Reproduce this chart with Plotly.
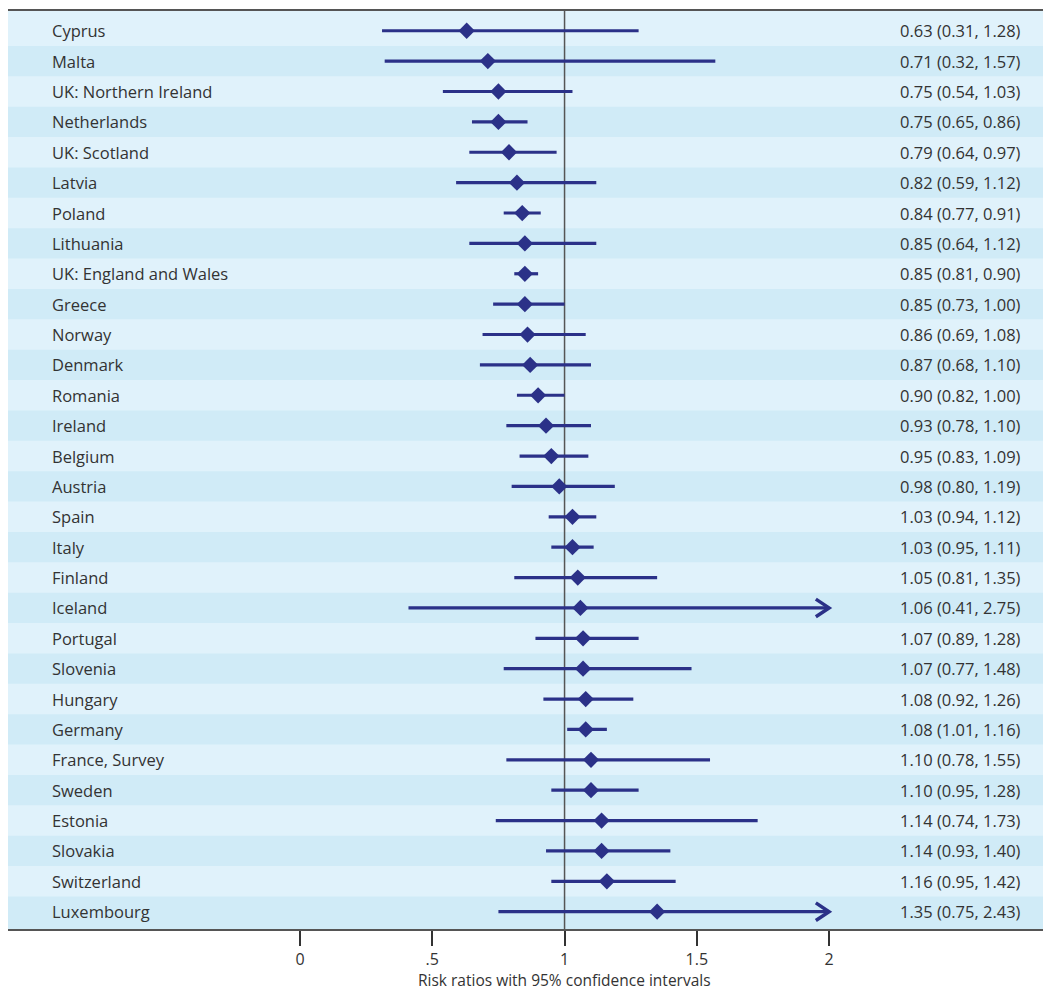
import plotly.graph_objects as go

countries = ["Cyprus", "Malta", "UK: Northern Ireland", "Netherlands", "UK: Scotland",
             "Latvia", "Poland", "Lithuania", "UK: England and Wales", "Greece",
             "Norway", "Denmark", "Romania", "Ireland", "Belgium", "Austria", "Spain",
             "Italy", "Finland", "Iceland", "Portugal", "Slovenia", "Hungary", "Germany",
             "France, Survey", "Sweden", "Estonia", "Slovakia", "Switzerland", "Luxembourg"]
rr = [0.63, 0.71, 0.75, 0.75, 0.79, 0.82, 0.84, 0.85, 0.85, 0.85, 0.86, 0.87, 0.90, 0.93,
      0.95, 0.98, 1.03, 1.03, 1.05, 1.06, 1.07, 1.07, 1.08, 1.08, 1.10, 1.10, 1.14, 1.14,
      1.16, 1.35]
lo = [0.31, 0.32, 0.54, 0.65, 0.64, 0.59, 0.77, 0.64, 0.81, 0.73, 0.69, 0.68, 0.82, 0.78,
      0.83, 0.80, 0.94, 0.95, 0.81, 0.41, 0.89, 0.77, 0.92, 1.01, 0.78, 0.95, 0.74, 0.93,
      0.95, 0.75]
hi = [1.28, 1.57, 1.03, 0.86, 0.97, 1.12, 0.91, 1.12, 0.90, 1.00, 1.08, 1.10, 1.00, 1.10,
      1.09, 1.19, 1.12, 1.11, 1.35, 2.75, 1.28, 1.48, 1.26, 1.16, 1.55, 1.28, 1.73, 1.40,
      1.42, 2.43]
tick_vals = [0, 0.5, 1, 1.5, 2]
tick_text = ["0", ".5", "1", "1.5", "2"]

CAP = 2.0
XMIN, XMAX = -1.104, 2.839
YTOP, YBOT = -0.65, 29.57
NAVY = "#2B3188"
LIGHT = "#E0F2FB"
DARK = "#D0EBF7"
FONT = "Open Sans"
FS = 16.5
TXT = "#333333"

n = len(countries)
ys = list(range(n))
hi_shown = [min(h, CAP) for h in hi]

fig = go.Figure()

shapes = []
for i in range(n):
    if i % 2 == 1:
        y0 = i - 0.5
        y1 = YBOT if i == n - 1 else i + 0.5
        shapes.append(dict(type="rect", xref="paper", yref="y", x0=0, x1=1, y0=y0, y1=y1,
                           fillcolor=DARK, line=dict(width=0), layer="below"))
shapes.append(dict(type="line", xref="x", yref="paper", x0=1, x1=1, y0=0, y1=1,
                   line=dict(color="#555555", width=1.5), layer="below"))

fig.add_trace(go.Scatter(
    x=rr, y=ys, mode="markers",
    marker=dict(symbol="diamond", size=12.5, color=NAVY),
    error_x=dict(type="data", symmetric=False,
                 array=[h - r for h, r in zip(hi_shown, rr)],
                 arrayminus=[r - l for r, l in zip(rr, lo)],
                 width=0, thickness=3.2, color=NAVY),
    hoverinfo="skip", showlegend=False))

dx, dy = 0.05, 0.29
ax, ay = [], []
for i, h in enumerate(hi):
    if h > CAP:
        ax += [CAP - dx, CAP, CAP - dx, None]
        ay += [i - dy, i, i + dy, None]
fig.add_trace(go.Scatter(x=ax, y=ay, mode="lines",
                         line=dict(color=NAVY, width=3.5),
                         hoverinfo="skip", showlegend=False))

annotations = []
for i, c in enumerate(countries):
    annotations.append(dict(xref="paper", yref="y", x=0.0403, y=i, text=c,
                            xanchor="left", yanchor="middle", showarrow=False,
                            font=dict(family=FONT, size=FS, color=TXT)))
    annotations.append(dict(xref="paper", yref="y", x=0.9731, y=i,
                            text=f"{rr[i]:.2f} ({lo[i]:.2f}, {hi[i]:.2f})",
                            xanchor="right", yanchor="middle", showarrow=False,
                            font=dict(family=FONT, size=FS, color=TXT)))
annotations.append(dict(xref="x", yref="paper", x=1.0, y=-(980 - 929) / 918,
                        text="Risk ratios with 95% confidence intervals",
                        xanchor="center", yanchor="middle", showarrow=False,
                        font=dict(family=FONT, size=15.5, color=TXT)))

fig.update_layout(
    width=1043, height=989,
    margin=dict(l=0, r=0, t=3, b=68),
    plot_bgcolor=LIGHT, paper_bgcolor="white",
    shapes=shapes, annotations=annotations,
    xaxis=dict(range=[XMIN, XMAX], tickvals=tick_vals, ticktext=tick_text,
               showgrid=False, zeroline=False, showline=True, mirror=True,
               linecolor="#555555", linewidth=1.5,
               ticks="outside", ticklen=15, tickwidth=1.5, tickcolor="#333333",
               tickfont=dict(family=FONT, size=16, color=TXT)),
    yaxis=dict(range=[YBOT, YTOP], showgrid=False, zeroline=False,
               showticklabels=False, showline=False, ticks=""),
)

fig.write_html("out.html")
